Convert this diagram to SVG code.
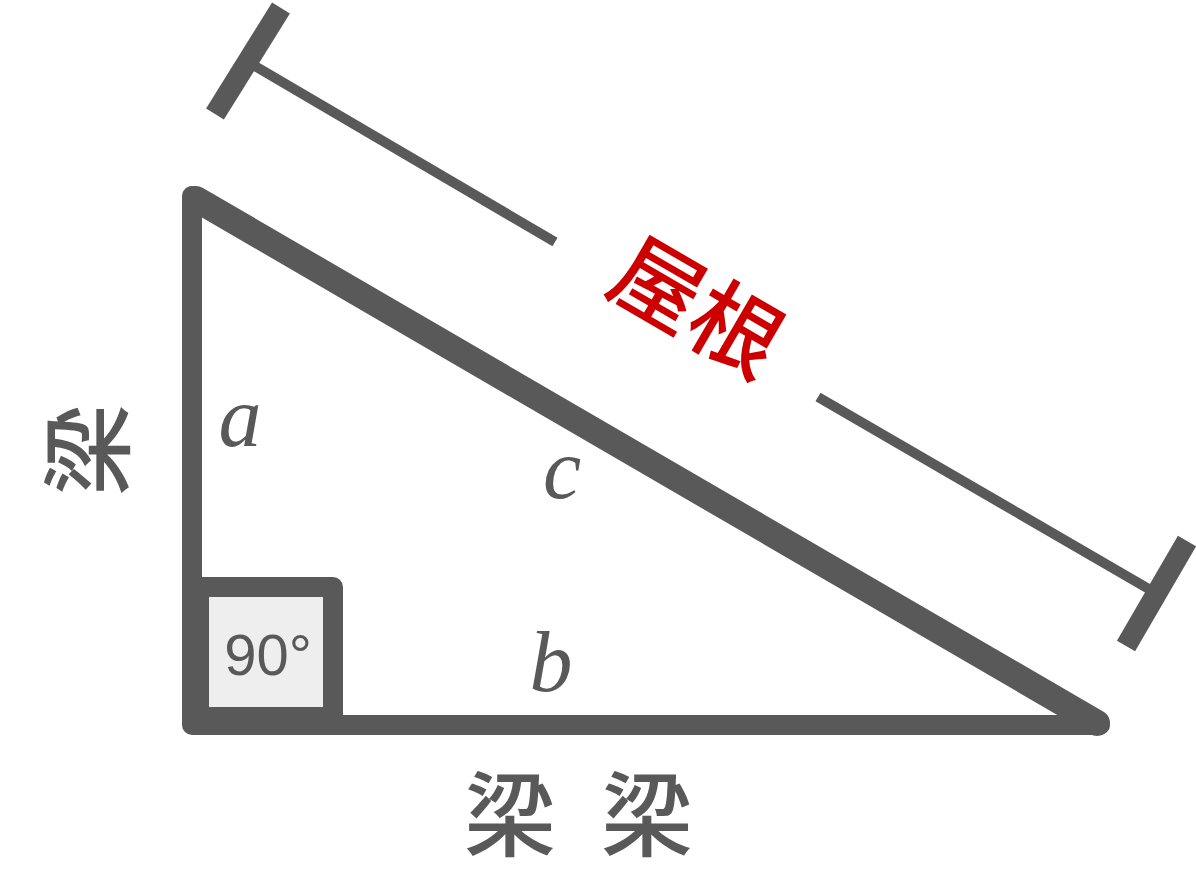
<svg xmlns="http://www.w3.org/2000/svg" width="1196" height="896" viewBox="0 0 1196 896">
<style>
.ln{stroke:#595959;fill:none;stroke-linecap:round;stroke-linejoin:round}
.dim{stroke:#595959;fill:none;stroke-linecap:butt}
.var{font-family:"Liberation Serif",serif;font-style:italic;font-size:86px;fill:#595959;text-anchor:middle}
.cjk{font-family:"Noto Sans CJK JP","Noto Sans CJK SC",sans-serif;font-weight:500;font-size:92px;fill:#595959;text-anchor:middle}
</style>
<rect width="1196" height="896" fill="#ffffff"/>
<g id="connectors">
<line class="dim" x1="248" y1="62" x2="555" y2="242" stroke-width="10"/>
<line class="dim" x1="818" y1="397" x2="1154" y2="592" stroke-width="10"/>
<line class="dim" x1="281" y1="8" x2="215" y2="114" stroke-width="21"/>
<line class="dim" x1="1187" y1="541" x2="1126" y2="646" stroke-width="21"/>
</g>
<g id="triangle">
<path class="ln" d="M192,196 L192,725 L1100,725 Z" stroke-width="20"/>
<line class="ln" x1="196" y1="199" x2="1097" y2="723" stroke-width="26"/>
</g>
<g id="right-angle">
<rect x="199" y="587" width="134" height="130" fill="#eeeeee" stroke="#595959" stroke-width="20" stroke-linejoin="round"/>
<text x="268" y="675" font-family="Liberation Sans,Arial,sans-serif" font-size="58" fill="#595959" text-anchor="middle">90°</text>
</g>
<g id="labels">
<text class="var" x="240" y="446">a</text>
<text class="var" x="562" y="498">c</text>
<text class="var" x="551" y="691">b</text>
<text class="cjk" x="510" y="849">梁</text>
<text class="cjk" x="647" y="849">梁</text>
<text class="cjk" transform="translate(87 450) rotate(-90)" x="0" y="35">梁</text>
<text transform="translate(697 307) rotate(30.2)" x="0" y="33" font-family="Noto Sans CJK JP,Noto Sans CJK SC,sans-serif" font-weight="500" font-size="90" fill="#cc0000" text-anchor="middle">屋根</text>
</g>
</svg>
